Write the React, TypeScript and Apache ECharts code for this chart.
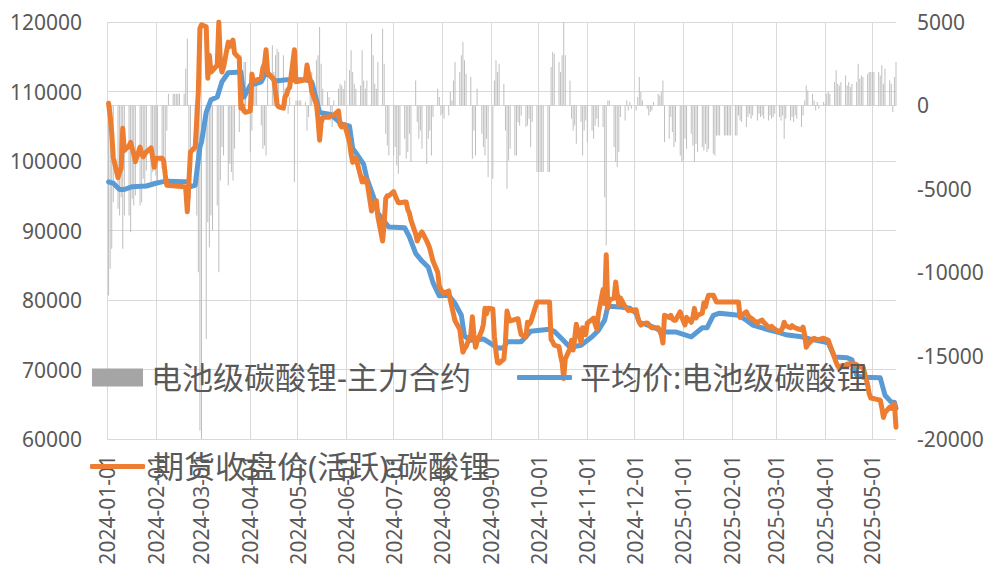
import React, { useEffect, useRef } from "react";
import * as echarts from "echarts";

const START_DAY = "2024-01-01";
const END_DAY = "2025-05-16";

const leftMin = 60000;
const leftMax = 120000;
const leftInterval = 10000;
const rightMin = -20000;
const rightMax = 5000;
const rightInterval = 5000;

const nameBasis = "电池级碳酸锂-主力合约";
const nameSpot = "平均价:电池级碳酸锂";
const nameFut = "期货收盘价(活跃):碳酸锂";

const spotAvg: [string, number][] = [
  ["2024-01-02", 97000], ["2024-01-05", 96800], ["2024-01-09", 95900], ["2024-01-12", 95900],
  ["2024-01-17", 96300], ["2024-01-26", 96400], ["2024-02-01", 96800], ["2024-02-05", 97000],
  ["2024-02-08", 97100], ["2024-02-19", 97000], ["2024-02-21", 97000], ["2024-02-23", 96300],
  ["2024-02-26", 96500], ["2024-02-27", 98400], ["2024-02-29", 102000], ["2024-03-01", 102700],
  ["2024-03-04", 107000], ["2024-03-07", 108800], ["2024-03-11", 109200], ["2024-03-14", 111400],
  ["2024-03-18", 112700], ["2024-03-26", 112800], ["2024-03-28", 109200], ["2024-04-01", 110900],
  ["2024-04-08", 111400], ["2024-04-11", 112800], ["2024-04-17", 111500], ["2024-04-24", 111700],
  ["2024-05-06", 111700], ["2024-05-10", 111400], ["2024-05-13", 108800], ["2024-05-15", 107000],
  ["2024-05-22", 106700], ["2024-05-29", 105300], ["2024-06-03", 105000], ["2024-06-05", 101800],
  ["2024-06-07", 101200], ["2024-06-12", 99500], ["2024-06-14", 97500], ["2024-06-18", 95000],
  ["2024-06-21", 92500], ["2024-06-25", 91300], ["2024-06-28", 90500], ["2024-07-08", 90400],
  ["2024-07-11", 89100], ["2024-07-15", 86700], ["2024-07-19", 85600], ["2024-07-23", 84700],
  ["2024-07-26", 82500], ["2024-07-30", 80600], ["2024-08-05", 80700], ["2024-08-09", 79500],
  ["2024-08-13", 77800], ["2024-08-15", 74800], ["2024-08-19", 74200], ["2024-08-27", 74400],
  ["2024-09-05", 73100], ["2024-09-09", 73100], ["2024-09-11", 74000], ["2024-09-20", 74000],
  ["2024-09-26", 75500], ["2024-10-08", 75800], ["2024-10-11", 75500], ["2024-10-15", 74600],
  ["2024-10-21", 73200], ["2024-10-28", 73500], ["2024-11-04", 74700], ["2024-11-08", 75600],
  ["2024-11-12", 77100], ["2024-11-14", 79100], ["2024-11-22", 79000], ["2024-11-28", 78800],
  ["2024-12-02", 78100], ["2024-12-04", 76800], ["2024-12-13", 76100], ["2024-12-19", 75400],
  ["2024-12-27", 75400], ["2025-01-06", 74700], ["2025-01-13", 76000], ["2025-01-16", 76000],
  ["2025-01-20", 77800], ["2025-01-24", 78100], ["2025-02-05", 77800], ["2025-02-10", 77100],
  ["2025-02-14", 76400], ["2025-02-20", 76000], ["2025-02-24", 75700], ["2025-03-03", 75300],
  ["2025-03-07", 75000], ["2025-03-17", 74700], ["2025-03-24", 74300], ["2025-03-31", 74000],
  ["2025-04-03", 73800], ["2025-04-07", 71800], ["2025-04-15", 71700], ["2025-04-18", 71400],
  ["2025-04-21", 69200], ["2025-04-25", 68900], ["2025-05-06", 68800], ["2025-05-09", 66300],
  ["2025-05-13", 65300], ["2025-05-15", 65300], ["2025-05-16", 64400],
];

const futuresClose: [string, number][] = [
  ["2024-01-02", 108300], ["2024-01-03", 106500], ["2024-01-04", 104000], ["2024-01-05", 100500],
  ["2024-01-08", 97600], ["2024-01-09", 98400], ["2024-01-10", 99000], ["2024-01-11", 104700],
  ["2024-01-12", 101500], ["2024-01-15", 102200], ["2024-01-16", 102700], ["2024-01-17", 101800],
  ["2024-01-18", 101000], ["2024-01-19", 99900], ["2024-01-22", 102000], ["2024-01-23", 101000],
  ["2024-01-24", 100600], ["2024-01-25", 101000], ["2024-01-26", 101300], ["2024-01-29", 101900],
  ["2024-01-30", 100500], ["2024-01-31", 99100], ["2024-02-01", 100400], ["2024-02-02", 100400],
  ["2024-02-05", 100400], ["2024-02-06", 100000], ["2024-02-07", 98000], ["2024-02-08", 96500],
  ["2024-02-19", 96300], ["2024-02-20", 96000], ["2024-02-21", 92700], ["2024-02-22", 97000],
  ["2024-02-23", 101300], ["2024-02-26", 102000], ["2024-02-27", 106000], ["2024-02-28", 110000],
  ["2024-02-29", 119100], ["2024-03-01", 119600], ["2024-03-04", 119300], ["2024-03-05", 111900],
  ["2024-03-06", 115200], ["2024-03-07", 112800], ["2024-03-08", 113000], ["2024-03-11", 113800],
  ["2024-03-12", 120000], ["2024-03-13", 114000], ["2024-03-14", 112800], ["2024-03-15", 113500],
  ["2024-03-18", 117100], ["2024-03-19", 116500], ["2024-03-20", 117000], ["2024-03-21", 117400],
  ["2024-03-22", 115500], ["2024-03-25", 114800], ["2024-03-26", 107600], ["2024-03-27", 108000],
  ["2024-03-28", 107200], ["2024-03-29", 107000], ["2024-04-01", 107200], ["2024-04-02", 112500],
  ["2024-04-03", 111400], ["2024-04-08", 112000], ["2024-04-09", 113400], ["2024-04-10", 114000],
  ["2024-04-11", 116000], ["2024-04-12", 112700], ["2024-04-15", 112000], ["2024-04-16", 111700],
  ["2024-04-17", 110000], ["2024-04-18", 108100], ["2024-04-19", 107800], ["2024-04-22", 107600],
  ["2024-04-23", 109200], ["2024-04-24", 109500], ["2024-04-25", 110300], ["2024-04-26", 110600],
  ["2024-04-29", 116000], ["2024-04-30", 111400], ["2024-05-06", 111700], ["2024-05-07", 113800],
  ["2024-05-08", 112500], ["2024-05-09", 111700], ["2024-05-10", 110000], ["2024-05-13", 108100],
  ["2024-05-14", 106000], ["2024-05-15", 103000], ["2024-05-16", 105500], ["2024-05-17", 106300],
  ["2024-05-20", 106300], ["2024-05-21", 106300], ["2024-05-22", 106500], ["2024-05-23", 106600],
  ["2024-05-24", 106600], ["2024-05-27", 107200], ["2024-05-28", 105200], ["2024-05-29", 104900],
  ["2024-05-30", 105000], ["2024-05-31", 105200], ["2024-06-03", 102700], ["2024-06-04", 101000],
  ["2024-06-05", 99800], ["2024-06-06", 100200], ["2024-06-07", 100500], ["2024-06-11", 97000],
  ["2024-06-12", 97500], ["2024-06-13", 97000], ["2024-06-14", 97200], ["2024-06-17", 92800],
  ["2024-06-18", 93500], ["2024-06-19", 94000], ["2024-06-20", 94300], ["2024-06-21", 92000],
  ["2024-06-24", 88500], ["2024-06-25", 91000], ["2024-06-26", 94600], ["2024-06-27", 95000],
  ["2024-06-28", 95000], ["2024-07-01", 95600], ["2024-07-02", 95000], ["2024-07-03", 94500],
  ["2024-07-04", 94000], ["2024-07-05", 94000], ["2024-07-08", 94100], ["2024-07-09", 94100],
  ["2024-07-10", 93000], ["2024-07-11", 92500], ["2024-07-12", 91500], ["2024-07-15", 89500],
  ["2024-07-16", 88500], ["2024-07-17", 89000], ["2024-07-18", 89500], ["2024-07-19", 89800],
  ["2024-07-22", 88500], ["2024-07-23", 88000], ["2024-07-24", 87400], ["2024-07-25", 86500],
  ["2024-07-26", 85600], ["2024-07-29", 84000], ["2024-07-30", 82000], ["2024-07-31", 81500],
  ["2024-08-01", 81200], ["2024-08-02", 81000], ["2024-08-05", 81300], ["2024-08-06", 80000],
  ["2024-08-07", 79000], ["2024-08-08", 78000], ["2024-08-09", 77000], ["2024-08-12", 75800],
  ["2024-08-13", 74000], ["2024-08-14", 72500], ["2024-08-15", 73000], ["2024-08-16", 73300],
  ["2024-08-19", 75000], ["2024-08-20", 77600], ["2024-08-21", 75000], ["2024-08-22", 73200],
  ["2024-08-23", 74000], ["2024-08-26", 75600], ["2024-08-27", 76500], ["2024-08-28", 78800],
  ["2024-08-29", 78000], ["2024-08-30", 78800], ["2024-09-02", 78700], ["2024-09-03", 74800],
  ["2024-09-04", 72500], ["2024-09-05", 71000], ["2024-09-06", 70900], ["2024-09-09", 71500],
  ["2024-09-10", 74000], ["2024-09-11", 78400], ["2024-09-12", 77500], ["2024-09-13", 77000],
  ["2024-09-18", 77300], ["2024-09-19", 76000], ["2024-09-20", 75000], ["2024-09-23", 74700],
  ["2024-09-24", 76800], ["2024-09-25", 76500], ["2024-09-26", 76800], ["2024-09-27", 77500],
  ["2024-09-30", 79700], ["2024-10-08", 79700], ["2024-10-09", 74300], ["2024-10-10", 74000],
  ["2024-10-11", 73500], ["2024-10-14", 73300], ["2024-10-15", 72000], ["2024-10-16", 71000],
  ["2024-10-17", 68700], ["2024-10-18", 71500], ["2024-10-21", 73000], ["2024-10-22", 74200],
  ["2024-10-23", 72800], ["2024-10-24", 74500], ["2024-10-25", 76500], ["2024-10-28", 73900],
  ["2024-10-29", 76000], ["2024-10-30", 75500], ["2024-10-31", 75000], ["2024-11-01", 76700],
  ["2024-11-04", 77200], ["2024-11-05", 77400], ["2024-11-06", 76500], ["2024-11-07", 75800],
  ["2024-11-08", 78000], ["2024-11-11", 81500], ["2024-11-12", 79500], ["2024-11-13", 86500],
  ["2024-11-14", 78800], ["2024-11-15", 80000], ["2024-11-18", 80300], ["2024-11-19", 82600],
  ["2024-11-20", 80800], ["2024-11-21", 79300], ["2024-11-22", 80300], ["2024-11-25", 79000],
  ["2024-11-26", 78800], ["2024-11-27", 78500], ["2024-11-28", 78600], ["2024-11-29", 78500],
  ["2024-12-02", 78600], ["2024-12-03", 77500], ["2024-12-04", 76800], ["2024-12-05", 76400],
  ["2024-12-06", 76600], ["2024-12-09", 76700], ["2024-12-10", 76500], ["2024-12-11", 76200],
  ["2024-12-12", 76000], ["2024-12-13", 76000], ["2024-12-16", 76000], ["2024-12-17", 75500],
  ["2024-12-18", 75000], ["2024-12-19", 73800], ["2024-12-20", 77800], ["2024-12-23", 77500],
  ["2024-12-24", 77800], ["2024-12-25", 77300], ["2024-12-26", 77100], ["2024-12-27", 77100],
  ["2024-12-30", 78300], ["2024-12-31", 77500], ["2025-01-02", 76400], ["2025-01-03", 77500],
  ["2025-01-06", 76800], ["2025-01-07", 77500], ["2025-01-08", 78800], ["2025-01-09", 77400],
  ["2025-01-10", 77800], ["2025-01-13", 78100], ["2025-01-14", 79600], ["2025-01-15", 79000],
  ["2025-01-16", 80000], ["2025-01-17", 80700], ["2025-01-20", 80700], ["2025-01-21", 80200],
  ["2025-01-22", 79700], ["2025-01-27", 79700], ["2025-02-05", 79700], ["2025-02-06", 77500],
  ["2025-02-07", 77800], ["2025-02-10", 78300], ["2025-02-11", 77800], ["2025-02-12", 77500],
  ["2025-02-13", 77400], ["2025-02-14", 77200], ["2025-02-17", 76700], ["2025-02-18", 76900],
  ["2025-02-19", 77000], ["2025-02-20", 77100], ["2025-02-21", 76800], ["2025-02-24", 76100],
  ["2025-02-25", 76000], ["2025-02-26", 76200], ["2025-02-27", 76000], ["2025-02-28", 75800],
  ["2025-03-03", 75400], ["2025-03-04", 75600], ["2025-03-05", 76000], ["2025-03-06", 76800],
  ["2025-03-07", 76300], ["2025-03-10", 76000], ["2025-03-11", 76300], ["2025-03-12", 76100],
  ["2025-03-13", 76000], ["2025-03-14", 75900], ["2025-03-17", 75700], ["2025-03-18", 76100],
  ["2025-03-19", 75000], ["2025-03-20", 73200], ["2025-03-21", 73600], ["2025-03-24", 74300],
  ["2025-03-25", 74500], ["2025-03-26", 74400], ["2025-03-27", 74300], ["2025-03-28", 74300],
  ["2025-03-31", 74500], ["2025-04-01", 74400], ["2025-04-02", 74300], ["2025-04-03", 74200],
  ["2025-04-07", 71700], ["2025-04-08", 71000], ["2025-04-09", 70500], ["2025-04-10", 70200],
  ["2025-04-11", 70500], ["2025-04-14", 70600], ["2025-04-15", 70800], ["2025-04-16", 70700],
  ["2025-04-17", 70900], ["2025-04-18", 70900], ["2025-04-21", 70700], ["2025-04-22", 70500],
  ["2025-04-23", 70400], ["2025-04-24", 70400], ["2025-04-25", 70400], ["2025-04-28", 67800],
  ["2025-04-29", 66500], ["2025-04-30", 65900], ["2025-05-06", 65600], ["2025-05-07", 64500],
  ["2025-05-08", 63100], ["2025-05-09", 63800], ["2025-05-12", 64600], ["2025-05-13", 64400],
  ["2025-05-14", 64900], ["2025-05-15", 65000], ["2025-05-16", 61700],
];

// basis, one value per weekday of each month
const basis2401 = [null, -11400, -9800, -8600, -5800, -6200, -6600, -5500, -8600, -6600, -6600, -7600, -5600, -6000, -5400, -6000, -5800, -4400, -5000, -3900, -4600, -4000, -3700];
const basis2402 = [-4200, -4800, -3800, -4500, -3600, -1500, 700, 700, 700, 700, 700, 700, 700, 2200, 4000, -4500, -5600, -2800, -6600, -10000, -19500];
const basis2403 = [-20000, -14000, -7000, -8500, -6600, -7500, -6000, -10000, -4500, -2500, -3000, -4800, -3500, -4000, -4500, -2600, -1600, 3000, 2000, 2600, 2600];
const basis2404 = [-2800, -1500, 1200, 1200, 1200, -1200, -2600, -2400, -3000, 2800, 3600, 2000, 3000, 3400, 3200, 3000, 1000, 800, -500, 500, -4600, 300];
const basis2405 = [300, 300, 300, 200, -1500, -700, 1500, 2000, 2700, 3000, 4700, 2500, 1000, 800, 500, -900, -1300, 300, 1000, 1300, 1200, 1000, 1500];
const basis2406 = [2100, 3300, 2000, 1300, 1000, 1200, 3300, 1500, 1000, 1500, 4300, 3000, 1300, 1000, 2600, 4600, 2500, -1700, -2400, -3000];
const basis2407 = [-3000, -2500, -3600, -4100, -3000, -2000, -3200, -2800, -1700, -3400, 1500, -1000, -2000, -1500, -2600, -3500, -2000, -1500, -3000, -700, 1000, 500, -600];
const basis2408 = [-500, -800, -600, 800, 300, 1500, 2600, 2000, 3000, 3800, 2700, 1900, 1700, -3200, -1500, -3000, 1000, -1700, -2500, -3000, -2000, -4300];
const basis2409 = [-4400, 1500, 2700, 2000, 2500, 1300, -1500, -5000, -3300, -2600, -3000, -3000, -1000, -1200, -600, -1300, -1200, -800, -2500, -1000, -4000];
const basis2410 = [-4000, -4000, -4000, -4000, -4000, -4000, 2300, 3200, 3100, 2600, 2000, 3000, 5000, 3000, 1500, -800, -1500, -1200, -2300, -1000, -3000, -1500, -900];
const basis2411 = [-2200, -1500, -2000, -1200, -800, -1300, -1300, -5500, -8400, 300, 300, -2500, -3400, -3700, -2800, -700, -900, 300, -300, 200, -200];
const basis2412 = [-300, 500, 1700, 800, 300, -200, -600, -400, -300, 200, 700, 600, 800, 1500, -2200, -2000, -700, -1600, -2500, -2200, -3000, -3400];
const basis2501 = [-3300, -2000, -2600, -1700, -2400, -3400, -2300, -2800, -2500, -2700, -2300, -2800, -2600, -2900, -3000, -1800, -1800, -1800, -1800, -1800, -1800, -1800, -1800];
const basis2502 = [-1800, -1800, -600, -900, -1000, -1300, -700, -500, -800, -600, -900, -500, -700, -600, -800, -900, -600, -800, -700, -500];
const basis2503 = [-700, -900, -600, -2000, -800, -900, -700, -1000, -600, -800, -1300, -600, 300, 1200, 900, 700, 300, -300, 200, -200, 200];
const basis2504 = [100, 700, 800, 700, 1400, 2100, 1300, 1200, 1400, 1800, 1200, 1400, 1100, 1300, 1400, 2500, 1600, 1800, 1700, 1900, 2000, 2000];
const basis2505 = [2000, 2000, 2000, 1800, 2400, 1300, 2200, 1500, 1300, -400, 1700, 2600];

const basisMonths: [string, (number | null)[]][] = [
  ["2024-01", basis2401], ["2024-02", basis2402], ["2024-03", basis2403], ["2024-04", basis2404],
  ["2024-05", basis2405], ["2024-06", basis2406], ["2024-07", basis2407], ["2024-08", basis2408],
  ["2024-09", basis2409], ["2024-10", basis2410], ["2024-11", basis2411], ["2024-12", basis2412],
  ["2025-01", basis2501], ["2025-02", basis2502], ["2025-03", basis2503], ["2025-04", basis2504],
  ["2025-05", basis2505],
];

function buildDays(): string[] {
  const out: string[] = [];
  const [sy, sm, sd] = START_DAY.split("-").map(Number);
  const [ey, em, ed] = END_DAY.split("-").map(Number);
  let t = Date.UTC(sy, sm - 1, sd);
  const end = Date.UTC(ey, em - 1, ed);
  while (t <= end) {
    out.push(new Date(t).toISOString().slice(0, 10));
    t += 86400000;
  }
  return out;
}

function isWeekday(d: string): boolean {
  const [y, m, dd] = d.split("-").map(Number);
  const w = new Date(Date.UTC(y, m - 1, dd)).getUTCDay();
  return w !== 0 && w !== 6;
}

const FONT = "'Noto Sans', 'Noto Sans CJK SC', sans-serif";
const TXT = "#595959";
const GRID = "#D9D9D9";

export default function App() {
  const ref = useRef<HTMLDivElement>(null);
  useEffect(() => {
    document.body.style.margin = "0";
    if (!ref.current) return;
    const chart = echarts.init(ref.current, undefined, { renderer: "svg" });
    const days = buildDays();
    const idx = new Map<string, number>();
    days.forEach((d, i) => idx.set(d, i));

    const toSeries = (pts: [string, number][]) => {
      const arr: (number | null)[] = days.map(() => null);
      pts.forEach(([d, v]) => {
        const i = idx.get(d);
        if (i !== undefined) arr[i] = v;
      });
      return arr;
    };
    const basisData: (number | null)[] = days.map(() => null);
    basisMonths.forEach(([m, vals]) => {
      const wd = days.filter((d) => d.startsWith(m) && isWeekday(d));
      vals.forEach((v, i) => {
        if (i < wd.length) basisData[idx.get(wd[i]) as number] = v;
      });
    });

    const monthStart = (_i: number, v: string) => v.slice(8) === "01";
    const plain = (v: number) => String(v);

    const legendBase = {
      orient: "horizontal" as const,
      padding: 0,
      itemGap: 0,
      textStyle: { fontSize: 31, color: TXT, fontFamily: FONT, padding: [0, 0, 0, 3] },
      selectedMode: false,
    };

    chart.setOption({
      animation: false,
      textStyle: { fontFamily: FONT },
      grid: { left: 107, right: 93, top: 22, bottom: 131, containLabel: false },
      legend: [
        {
          ...legendBase,
          left: 92,
          top: 362,
          itemWidth: 51,
          itemHeight: 18,
          data: [{ name: nameBasis, icon: "rect", itemStyle: { color: "#A5A5A5" } }],
        },
        {
          ...legendBase,
          left: 517,
          top: 362,
          itemWidth: 55,
          itemHeight: 5,
          data: [{ name: nameSpot, icon: "roundRect" }],
        },
        {
          ...legendBase,
          left: 90,
          top: 451,
          itemWidth: 55,
          itemHeight: 5,
          data: [{ name: nameFut, icon: "roundRect" }],
        },
      ],
      xAxis: {
        type: "category",
        data: days,
        boundaryGap: false,
        axisLine: { show: true, lineStyle: { color: GRID, width: 1 } },
        axisTick: { show: false },
        axisLabel: {
          interval: monthStart,
          rotate: 90,
          fontSize: 21,
          color: TXT,
          fontFamily: FONT,
          margin: 16,
        },
        splitLine: { show: true, interval: monthStart, lineStyle: { color: GRID, width: 1 } },
      },
      yAxis: [
        {
          type: "value",
          min: leftMin,
          max: leftMax,
          interval: leftInterval,
          axisLine: { show: false },
          axisTick: { show: false },
          axisLabel: { fontSize: 21, color: TXT, fontFamily: FONT, margin: 25, formatter: plain },
          splitLine: { show: true, lineStyle: { color: GRID, width: 1 } },
        },
        {
          type: "value",
          min: rightMin,
          max: rightMax,
          interval: rightInterval,
          position: "right",
          axisLine: { show: false },
          axisTick: { show: false },
          axisLabel: { fontSize: 21, color: TXT, fontFamily: FONT, margin: 21, formatter: plain },
          splitLine: { show: false },
        },
      ],
      series: [
        {
          name: nameBasis,
          type: "bar",
          yAxisIndex: 1,
          data: basisData,
          barWidth: 1,
          itemStyle: { color: "#BFBFBF" },
        },
        {
          name: nameSpot,
          type: "line",
          yAxisIndex: 0,
          data: toSeries(spotAvg),
          connectNulls: true,
          showSymbol: false,
          symbol: "none",
          itemStyle: { color: "#5B9BD5" },
          lineStyle: { color: "#5B9BD5", width: 5, cap: "round", join: "round" },
        },
        {
          name: nameFut,
          type: "line",
          yAxisIndex: 0,
          data: toSeries(futuresClose),
          connectNulls: true,
          showSymbol: false,
          symbol: "none",
          itemStyle: { color: "#ED7D31" },
          lineStyle: { color: "#ED7D31", width: 5, cap: "round", join: "round" },
        },
      ],
    });
    return () => chart.dispose();
  }, []);
  return (
    <div
      ref={ref}
      style={{ position: "absolute", left: 0, top: 0, width: 989, height: 570, background: "#fff" }}
    />
  );
}
